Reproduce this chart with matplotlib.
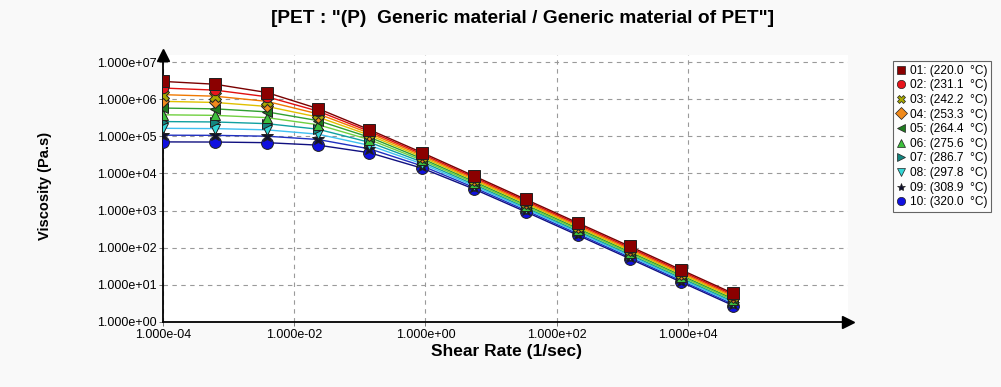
import matplotlib
matplotlib.use('Agg')
import matplotlib.pyplot as plt
from matplotlib.lines import Line2D

# --- Data ---
shear_rate = [1.0e-4, 6.2e-4, 3.8e-3, 2.3e-2, 1.4e-1, 8.9e-1, 5.5, 34, 210, 1.3e3, 7.9e3, 4.9e4]

temps = [220.0, 231.1, 242.2, 253.3, 264.4, 275.6, 286.7, 297.8, 308.9, 320.0]

visc_01 = [3.0e6, 2.52e6, 1.51e6, 5.55e5, 1.50e5, 3.62e4, 8.53e3, 1.99e3, 466, 109, 25.4, 5.9]
visc_02 = [1.99e6, 1.75e6, 1.16e6, 4.76e5, 1.35e5, 3.31e4, 7.83e3, 1.83e3, 428, 99.8, 23.3, 5.43]
visc_03 = [1.32e6, 1.20e6, 8.72e5, 4.01e5, 1.21e5, 3.03e4, 7.18e3, 1.68e3, 393, 91.8, 21.4, 5.0]
visc_04 = [8.72e5, 8.15e5, 6.38e5, 3.29e5, 1.07e5, 2.76e4, 6.59e3, 1.55e3, 361, 84.3, 19.7, 4.59]
visc_05 = [5.76e5, 5.48e5, 4.55e5, 2.64e5, 9.40e4, 2.50e4, 6.04e3, 1.42e3, 332, 77.5, 18.1, 4.22]
visc_06 = [3.79e5, 3.66e5, 3.18e5, 2.05e5, 8.11e4, 2.26e4, 5.52e3, 1.30e3, 305, 71.2, 16.6, 3.88]
visc_07 = [2.49e5, 2.43e5, 2.19e5, 1.55e5, 6.87e4, 2.03e4, 5.05e3, 1.20e3, 280, 65.5, 15.3, 3.56]
visc_08 = [1.64e5, 1.61e5, 1.49e5, 1.14e5, 5.69e4, 1.81e4, 4.60e3, 1.10e3, 258, 60.2, 14.0, 3.27]
visc_09 = [1.07e5, 1.06e5, 1.005e5, 8.20e4, 4.59e4, 1.59e4, 4.18e3, 1.006e3, 236, 55.3, 12.9, 3.01]
visc_10 = [7.06e4, 7.0e4, 6.73e4, 5.78e4, 3.61e4, 1.38e4, 3.79e3, 921, 217, 50.8, 11.9, 2.77]

series = [visc_01, visc_02, visc_03, visc_04, visc_05, visc_06, visc_07, visc_08, visc_09, visc_10]

# marker style / fill / line colour for each temperature
markers = ['s', 'o', 'X', 'D', '<', '^', '>', 'v', '*', 'o']
marker_colors = ['#8b0000', '#e8141c', '#a8a800', '#f08a1c', '#1e7a1e',
                 '#3cc03c', '#12857f', '#33d6d6', '#101030', '#1010e0']
line_colors = ['#7a0000', '#e01010', '#f07800', '#e0c000', '#30a030',
               '#70d040', '#10a0a0', '#40c0f0', '#2030c0', '#101080']
marker_sizes = [8, 7.5, 8, 6.5, 7.5, 7.5, 7.5, 7.5, 9.5, 8.5]

plt.rcParams['font.family'] = ['Liberation Sans', 'DejaVu Sans']

fig = plt.figure(figsize=(10.01, 3.87), dpi=100, facecolor='#f9f9f9')
ax = fig.add_axes([0.163, 0.168, 0.684, 0.690])
ax.set_facecolor('white')

# plot every temperature curve (drawn from the last so the hottest sits at the bottom)
for k in range(len(series) - 1, -1, -1):
    ax.plot(shear_rate, series[k], color=line_colors[k], linewidth=1.0, zorder=2)
for k in range(len(series) - 1, -1, -1):
    ax.plot(shear_rate, series[k], linestyle='none', marker=markers[k],
            markersize=marker_sizes[k], markerfacecolor=marker_colors[k],
            markeredgecolor='#202020', markeredgewidth=0.7, zorder=3)

ax.set_xscale('log')
ax.set_yscale('log')
ax.set_xlim(1e-4, 10 ** 6.44)
ax.set_ylim(1, 10 ** 7.19)

ax.set_xticks([1e-4, 1e-2, 1e0, 1e2, 1e4])
ax.set_xticklabels(['1.000e-04', '1.000e-02', '1.000e+00', '1.000e+02', '1.000e+04'])
ax.set_yticks([10.0 ** p for p in range(0, 8)])
ax.set_yticklabels(['1.000e+%02d' % p for p in range(0, 8)])
ax.minorticks_off()
ax.tick_params(axis='both', labelsize=9, length=3, width=0.6, color='#606060', pad=2)

ax.grid(True, which='major', linestyle=(0, (4, 4)), color='#9a9a9a', linewidth=0.8)
for s in ['top', 'right']:
    ax.spines[s].set_visible(False)
for s in ['left', 'bottom']:
    ax.spines[s].set_linewidth(1.3)
    ax.spines[s].set_color('black')

# arrow heads on the axes
ax.plot(1, 0, marker='>', color='black', markersize=8, transform=ax.transAxes, clip_on=False)
ax.plot(0, 1, marker='^', color='black', markersize=8, transform=ax.transAxes, clip_on=False)

fig.text(0.522, 0.952, '[PET : "(P)  Generic material / Generic material of PET"]',
         ha='center', va='center', fontsize=13.8, fontweight='bold')
fig.text(0.506, 0.092, 'Shear Rate (1/sec)', ha='center', va='center',
         fontsize=12.5, fontweight='bold')
fig.text(0.045, 0.52, 'Viscosity (Pa.s)', ha='center', va='center', rotation=90,
         fontsize=10.5, fontweight='bold')

# legend with marker only handles
handles = []
for k in range(len(series)):
    handles.append(Line2D([], [], linestyle='none', marker=markers[k], markersize=6,
                          markerfacecolor=marker_colors[k], markeredgecolor='#202020',
                          markeredgewidth=0.5))
labels = ['%02d: (%.1f  \u00b0C)' % (k + 1, t) for k, t in enumerate(temps)]
leg = fig.legend(handles, labels, loc='upper left', bbox_to_anchor=(0.892, 0.842),
                 fontsize=8.6, frameon=True, fancybox=False, handlelength=0.8,
                 handletextpad=0.3, labelspacing=0.22, borderpad=0.3, borderaxespad=0)
leg.get_frame().set_edgecolor('#404040')
leg.get_frame().set_linewidth(0.8)

fig.savefig('out.png', dpi=100, facecolor=fig.get_facecolor())
